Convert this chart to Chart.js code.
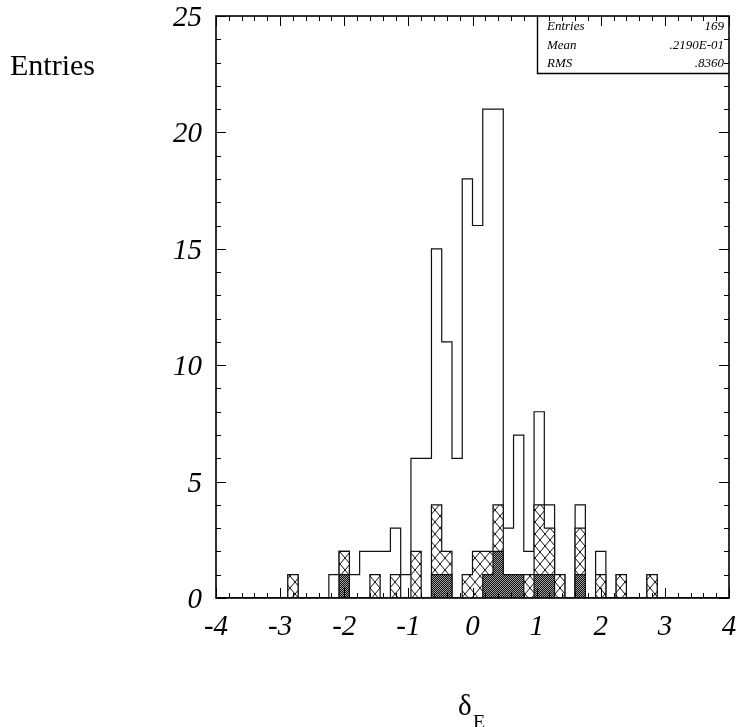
<!DOCTYPE html>
<html>
<head>
<meta charset="utf-8">
<script src="https://cdn.jsdelivr.net/npm/chart.js@4.4.1/dist/chart.umd.min.js"></script>
<style>
  html, body { margin: 0; padding: 0; background: #fff; }
  #wrap { width: 739px; height: 727px; position: relative; }
</style>
</head>
<body>
<div id="wrap"><canvas id="hist" width="739" height="727"></canvas></div>
<script>
// bin edges of delta_E (50 bins from -4 to 4)
const binEdges = [-4, -3.84, -3.68, -3.52, -3.36, -3.2, -3.04, -2.88, -2.72, -2.56,
  -2.4, -2.24, -2.08, -1.92, -1.76, -1.6, -1.44, -1.28, -1.12, -0.96,
  -0.8, -0.64, -0.48, -0.32, -0.16, 0, 0.16, 0.32, 0.48, 0.64,
  0.8, 0.96, 1.12, 1.28, 1.44, 1.6, 1.76, 1.92, 2.08, 2.24,
  2.4, 2.56, 2.72, 2.88, 3.04, 3.2, 3.36, 3.52, 3.68, 3.84, 4];

// all entries
const countsAll = [
  0, 0, 0, 0, 0, 0, 0, 1, 0, 0,
  0, 1, 2, 1, 2, 2, 2, 3, 1, 6,
  6, 15, 11, 6, 18, 16, 21, 21, 3, 7,
  2, 8, 4, 1, 0, 4, 0, 2, 0, 1,
  0, 0, 1, 0, 0, 0, 0, 0, 0, 0];

// cross-hatched subset
const countsHatched = [
  0, 0, 0, 0, 0, 0, 0, 1, 0, 0,
  0, 0, 2, 0, 0, 1, 0, 1, 0, 2,
  0, 4, 2, 0, 1, 2, 2, 4, 1, 1,
  1, 4, 3, 1, 0, 3, 0, 1, 0, 1,
  0, 0, 1, 0, 0, 0, 0, 0, 0, 0];

// dark subset
const countsDark = [
  0, 0, 0, 0, 0, 0, 0, 0, 0, 0,
  0, 0, 1, 0, 0, 0, 0, 0, 0, 0,
  0, 1, 1, 0, 0, 0, 1, 2, 1, 1,
  0, 1, 1, 0, 0, 1, 0, 0, 0, 0,
  0, 0, 0, 0, 0, 0, 0, 0, 0, 0];

const xTickValues = [-4, -3, -2, -1, 0, 1, 2, 3, 4];
const xTickLabels = ['-4', '-3', '-2', '-1', '0', '1', '2', '3', '4'];
const yTickValues = [0, 5, 10, 15, 20, 25];
const yTickLabels = ['0', '5', '10', '15', '20', '25'];

const statLabels = ['Entries', 'Mean', 'RMS'];
const statValues = ['169', '.2190E-01', '.8360'];

const SERIF = "'Liberation Serif', 'Times New Roman', serif";

// step outline points: one point per lower bin edge, closed at the upper end
function stepPoints(counts) {
  const pts = counts.map((c, i) => ({ x: binEdges[i], y: c }));
  pts.push({ x: binEdges[binEdges.length - 1], y: 0 });
  return pts;
}

function makePattern(size, draw) {
  const c = document.createElement('canvas');
  c.width = size[0];
  c.height = size[1];
  const g = c.getContext('2d');
  draw(g, size[0], size[1]);
  return g.createPattern(c, 'repeat');
}

const crossHatch = makePattern([10, 12], (g, w, h) => {
  g.fillStyle = '#fff';
  g.fillRect(0, 0, w, h);
  g.strokeStyle = '#111';
  g.lineWidth = 1;
  g.beginPath();
  g.moveTo(0, 0); g.lineTo(w, h);
  g.moveTo(w, 0); g.lineTo(0, h);
  g.stroke();
});

// fine checker for the dark subset
const darkDots = makePattern([2, 2], (g) => {
  g.fillStyle = '#111';
  g.fillRect(0, 0, 2, 2);
  g.fillStyle = '#a0a0a0';
  g.fillRect(0, 0, 1, 1);
  g.fillRect(1, 1, 1, 1);
});

// frame, inward ticks, tick labels, titles and stats box
const framePlugin = {
  id: 'frame',
  afterDraw(chart) {
    const { ctx, chartArea: a, scales: { x, y } } = chart;
    ctx.save();
    ctx.strokeStyle = '#000';
    ctx.lineWidth = 1;
    ctx.beginPath();
    for (let i = -20; i <= 20; i++) {
      const px = Math.round(x.getPixelForValue(i / 5)) + 0.5;
      const len = i % 5 === 0 ? 10 : 5;
      ctx.moveTo(px, a.bottom); ctx.lineTo(px, a.bottom - len);
      ctx.moveTo(px, a.top); ctx.lineTo(px, a.top + len);
    }
    for (let v = 0; v <= 25; v++) {
      const py = Math.round(y.getPixelForValue(v)) + 0.5;
      const len = v % 5 === 0 ? 10 : 5;
      ctx.moveTo(a.left, py); ctx.lineTo(a.left + len, py);
      ctx.moveTo(a.right, py); ctx.lineTo(a.right - len, py);
    }
    ctx.stroke();

    ctx.lineWidth = 1.6;
    ctx.strokeRect(a.left, a.top, a.right - a.left, a.bottom - a.top);

    // stats box
    const boxLeft = 537.5, boxBottom = 73.5;
    ctx.lineWidth = 1.4;
    ctx.beginPath();
    ctx.moveTo(boxLeft, a.top);
    ctx.lineTo(boxLeft, boxBottom);
    ctx.lineTo(a.right, boxBottom);
    ctx.stroke();
    ctx.fillStyle = '#000';
    ctx.font = 'italic 13px ' + SERIF;
    statLabels.forEach((s, i) => {
      const base = 30 + i * 18.6;
      ctx.textAlign = 'left';
      ctx.fillText(s, 547, base);
      ctx.textAlign = 'right';
      ctx.fillText(statValues[i], 724, base);
    });

    // tick labels
    ctx.font = 'italic 29px ' + SERIF;
    ctx.textAlign = 'center';
    xTickValues.forEach((v, i) => {
      ctx.fillText(xTickLabels[i], x.getPixelForValue(v), 635);
    });
    ctx.textAlign = 'right';
    yTickValues.forEach((v, i) => {
      ctx.fillText(yTickLabels[i], 202, y.getPixelForValue(v) + 10);
    });

    // axis titles
    ctx.textAlign = 'left';
    ctx.font = '30px ' + SERIF;
    ctx.fillText('Entries', 10, 75);
    ctx.font = '29px ' + SERIF;
    ctx.fillText('\u03B4', 458, 715);
    ctx.font = '20px ' + SERIF;
    ctx.fillText('E', 473, 729);
    ctx.restore();
  }
};

new Chart(document.getElementById('hist'), {
  type: 'line',
  data: {
    datasets: [
      {
        label: 'dark',
        data: stepPoints(countsDark),
        stepped: true,
        fill: 'origin',
        backgroundColor: darkDots,
        borderColor: '#111',
        borderWidth: 1.2,
        pointRadius: 0,
        order: 0
      },
      {
        label: 'hatched',
        data: stepPoints(countsHatched),
        stepped: true,
        fill: 'origin',
        backgroundColor: crossHatch,
        borderColor: '#111',
        borderWidth: 1.2,
        pointRadius: 0,
        order: 1
      },
      {
        label: 'all',
        data: stepPoints(countsAll),
        stepped: true,
        fill: false,
        borderColor: '#111',
        borderWidth: 1.2,
        pointRadius: 0,
        order: 2
      }
    ]
  },
  options: {
    responsive: false,
    animation: false,
    layout: { padding: { left: 216, right: 10, top: 16, bottom: 129 } },
    plugins: { legend: { display: false }, tooltip: { enabled: false } },
    scales: {
      x: { type: 'linear', min: -4, max: 4, display: false },
      y: { type: 'linear', min: 0, max: 25, display: false }
    }
  },
  plugins: [framePlugin]
});
</script>
</body>
</html>
